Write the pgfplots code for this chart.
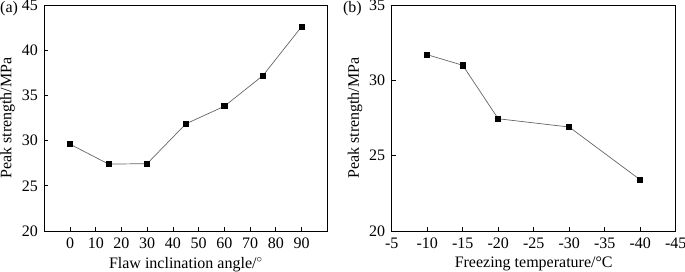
\documentclass[border=0pt]{standalone}
\usepackage{pgfplots}
\pgfplotsset{compat=1.18}
\usepackage{fontspec}
\setmainfont{Liberation Serif}
\begin{document}
\fontsize{16}{19}\selectfont
\begin{tikzpicture}
\path[use as bounding box] (-44.3pt,-41pt) rectangle (640.7pt,231pt);
\pgfplotsset{
  every axis/.append style={
    scale only axis, height=226pt,
    axis line style={black, line width=0.8pt},
    tick style={black, line width=0.8pt},
    tick align=inside, major tick length=4pt,
    xtick pos=bottom, ytick pos=left,
    /pgf/number format/assume math mode=true,
    tick label style={font=\fontsize{16}{19}\selectfont},
    label style={font=\fontsize{16}{19}\selectfont},
    xticklabel style={yshift=-1pt},
    yticklabel style={xshift=-1pt},
    xlabel style={yshift=2pt},
    ylabel style={yshift=-4pt},
    clip=false,
  },
}
\begin{axis}[at={(0pt,0pt)}, anchor=south west, width=283pt,
  xmin=-10, xmax=100, ymin=20, ymax=45,
  xtick={0,10,...,90}, ytick={20,25,...,45},
  xlabel={Flaw inclination angle/$^\circ$},
  ylabel={Peak strength/MPa}]
\addplot[color=black!60, line width=0.7pt, mark=square*, mark size=2.6pt,
  mark options={fill=black, draw=black}] coordinates {
(0,29.6) (15,27.4) (30,27.45) (45,31.85) (60,33.8) (75,37.2) (90,42.6)};
\end{axis}
\node[anchor=north west, inner sep=0pt] at (-44.3pt,230pt) {(a)};
\begin{axis}[at={(347.4pt,0pt)}, anchor=south west, width=284pt,
  x dir=reverse,
  xmin=-45, xmax=-5, ymin=20, ymax=35,
  xtick={-45,-40,...,-5}, ytick={20,25,...,35},
  xlabel={Freezing temperature/\textdegree C},
  ylabel={Peak strength/MPa}]
\addplot[color=black!60, line width=0.7pt, mark=square*, mark size=2.6pt,
  mark options={fill=black, draw=black}] coordinates {
(-10,31.7) (-15,31.0) (-20,27.45) (-30,26.9) (-40,23.4)};
\end{axis}
\node[anchor=north west, inner sep=0pt] at (298.5pt,230pt) {(b)};
\end{tikzpicture}
\end{document}
